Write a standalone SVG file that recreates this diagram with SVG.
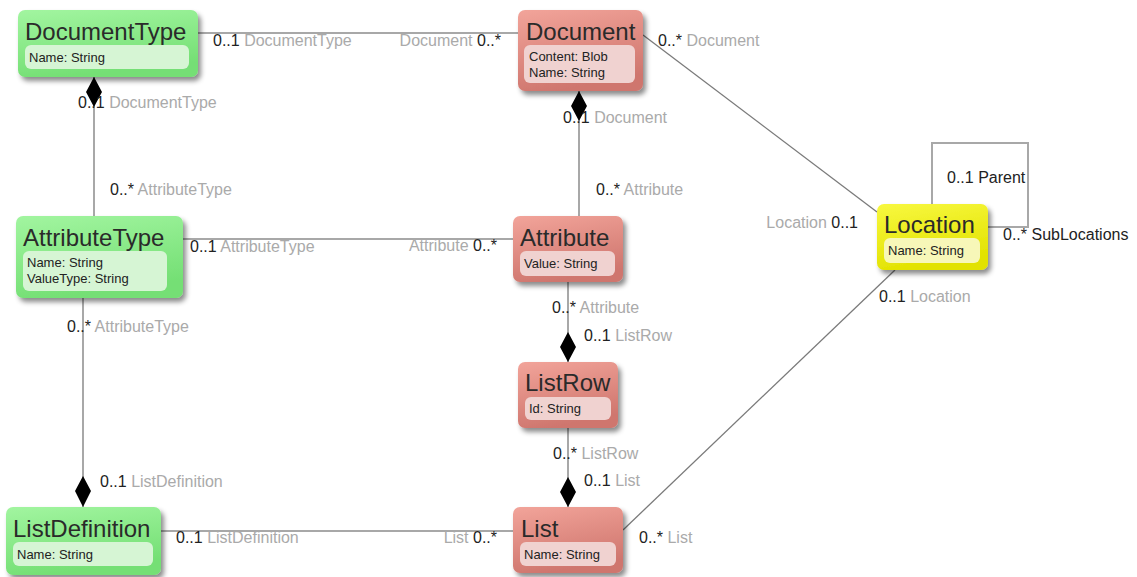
<svg xmlns="http://www.w3.org/2000/svg" width="1137" height="577" viewBox="0 0 1137 577">
<defs>
<linearGradient id="gG" x1="0" y1="0" x2="0.3" y2="1"><stop offset="0" stop-color="#a2f5a0"/><stop offset="1" stop-color="#74df74"/></linearGradient>
<linearGradient id="gR" x1="0" y1="0" x2="0.3" y2="1"><stop offset="0" stop-color="#f2a49a"/><stop offset="1" stop-color="#cf766e"/></linearGradient>
<linearGradient id="gY" x1="0" y1="0" x2="0.3" y2="1"><stop offset="0" stop-color="#f8f840"/><stop offset="1" stop-color="#e2e200"/></linearGradient>
<filter id="sh" x="-20%" y="-20%" width="140%" height="150%"><feDropShadow dx="3" dy="4" stdDeviation="2.5" flood-color="#000" flood-opacity="0.45"/></filter>
</defs>
<style>
.title{font-family:"Liberation Sans",Arial,sans-serif;font-size:24px;fill:#2a2a2a}
.attr{font-family:"Liberation Sans",Arial,sans-serif;font-size:13px;fill:#222}
.lbl{font-family:"Liberation Sans",Arial,sans-serif;font-size:16px;fill:#222}
.role{fill:#aaaaaa}
.g{fill:url(#gG)} .r{fill:url(#gR)} .y{fill:url(#gY)}
.gi{fill:#d6f5d4} .ri{fill:#f0d2d0} .yi{fill:#f7f7b8}
.ln{stroke:#a8a8a8;stroke-width:2;fill:none}
.dg{stroke:#7a7a7a;stroke-width:1.3;fill:none}
.dm{fill:#000}
</style>
<rect width="1137" height="577" fill="#fff"/>
<g id="connectors">
<line class="ln" x1="198" y1="33" x2="518" y2="33"/>
<line class="ln" x1="94" y1="77" x2="94" y2="216"/>
<polygon class="dm" points="94,77 102,92 94,107 86,92"/>
<line class="ln" x1="579" y1="91" x2="579" y2="216"/>
<polygon class="dm" points="579,91 587,106 579,121 571,106"/>
<line class="ln" x1="183" y1="239" x2="513" y2="239"/>
<line class="ln" x1="568" y1="282" x2="568" y2="362"/>
<polygon class="dm" points="568,332 576,347 568,362 560,347"/>
<line class="ln" x1="568" y1="428" x2="568" y2="507"/>
<polygon class="dm" points="568,477 576,492 568,507 560,492"/>
<line class="ln" x1="83" y1="298" x2="83" y2="507"/>
<polygon class="dm" points="83,476 91,491 83,507 75,491"/>
<line class="ln" x1="161" y1="531" x2="513" y2="531"/>
<line class="dg" x1="643" y1="35" x2="877" y2="212"/>
<line class="dg" x1="623" y1="530" x2="895" y2="270"/>
<polyline class="ln" points="932,204 932,143 1028,143 1028,227 988,227"/>
</g>
<g id="labels">
<text class="lbl" x="213" y="46">0..1 <tspan class="role">DocumentType</tspan></text>
<text class="lbl" x="501" y="46" text-anchor="end"><tspan class="role">Document</tspan> 0..*</text>
<text class="lbl" x="658" y="46">0..* <tspan class="role">Document</tspan></text>
<text class="lbl" x="78" y="108">0..1 <tspan class="role">DocumentType</tspan></text>
<text class="lbl" x="563" y="123">0..1 <tspan class="role">Document</tspan></text>
<text class="lbl" x="110" y="195">0..* <tspan class="role">AttributeType</tspan></text>
<text class="lbl" x="596" y="195">0..* <tspan class="role">Attribute</tspan></text>
<text class="lbl" x="190" y="252">0..1 <tspan class="role">AttributeType</tspan></text>
<text class="lbl" x="497" y="251" text-anchor="end"><tspan class="role">Attribute</tspan> 0..*</text>
<text class="lbl" x="67" y="332">0..* <tspan class="role">AttributeType</tspan></text>
<text class="lbl" x="552" y="313">0..* <tspan class="role">Attribute</tspan></text>
<text class="lbl" x="584" y="341">0..1 <tspan class="role">ListRow</tspan></text>
<text class="lbl" x="553" y="459">0..* <tspan class="role">ListRow</tspan></text>
<text class="lbl" x="584" y="486">0..1 <tspan class="role">List</tspan></text>
<text class="lbl" x="100" y="487">0..1 <tspan class="role">ListDefinition</tspan></text>
<text class="lbl" x="176" y="543">0..1 <tspan class="role">ListDefinition</tspan></text>
<text class="lbl" x="497" y="543" text-anchor="end"><tspan class="role">List</tspan> 0..*</text>
<text class="lbl" x="639" y="543">0..* <tspan class="role">List</tspan></text>
<text class="lbl" x="858" y="228" text-anchor="end"><tspan class="role">Location</tspan> 0..1</text>
<text class="lbl" x="947" y="183">0..1 Parent</text>
<text class="lbl" x="1003" y="240">0..* SubLocations</text>
<text class="lbl" x="879" y="302">0..1 <tspan class="role">Location</tspan></text>
</g>
<g id="DocumentType">
<rect class="g" x="18" y="10" width="180" height="67" rx="7" filter="url(#sh)"/>
<text class="title" x="25" y="40">DocumentType</text>
<rect class="gi" x="25" y="45" width="164" height="24" rx="6"/>
<text class="attr" x="29" y="62">Name: String</text>
</g>
<g id="Document">
<rect class="r" x="518" y="10" width="125" height="81" rx="7" filter="url(#sh)"/>
<text class="title" x="526" y="40">Document</text>
<rect class="ri" x="524" y="45" width="111" height="38" rx="6"/>
<text class="attr" x="529" y="61">Content: Blob</text>
<text class="attr" x="529" y="77">Name: String</text>
</g>
<g id="AttributeType">
<rect class="g" x="16" y="216" width="167" height="82" rx="7" filter="url(#sh)"/>
<text class="title" x="23" y="246">AttributeType</text>
<rect class="gi" x="23" y="251" width="144" height="40" rx="6"/>
<text class="attr" x="27" y="267">Name: String</text>
<text class="attr" x="27" y="283">ValueType: String</text>
</g>
<g id="Attribute">
<rect class="r" x="513" y="216" width="110" height="66" rx="7" filter="url(#sh)"/>
<text class="title" x="520" y="246">Attribute</text>
<rect class="ri" x="520" y="251" width="95" height="25" rx="6"/>
<text class="attr" x="524" y="268">Value: String</text>
</g>
<g id="ListRow">
<rect class="r" x="518" y="362" width="100" height="66" rx="7" filter="url(#sh)"/>
<text class="title" x="525" y="391">ListRow</text>
<rect class="ri" x="525" y="397" width="86" height="23" rx="6"/>
<text class="attr" x="529" y="413">Id: String</text>
</g>
<g id="List">
<rect class="r" x="513" y="507" width="110" height="66" rx="7" filter="url(#sh)"/>
<text class="title" x="521" y="537">List</text>
<rect class="ri" x="520" y="542" width="96" height="24" rx="6"/>
<text class="attr" x="524" y="559">Name: String</text>
</g>
<g id="ListDefinition">
<rect class="g" x="6" y="507" width="155" height="68" rx="7" filter="url(#sh)"/>
<text class="title" x="13" y="537">ListDefinition</text>
<rect class="gi" x="13" y="542" width="140" height="24" rx="6"/>
<text class="attr" x="17" y="559">Name: String</text>
</g>
<g id="Location">
<rect class="y" x="877" y="204" width="111" height="66" rx="7" filter="url(#sh)"/>
<text class="title" x="884" y="233">Location</text>
<rect class="yi" x="884" y="238" width="96" height="25" rx="6"/>
<text class="attr" x="888" y="255">Name: String</text>
</g>
</svg>
